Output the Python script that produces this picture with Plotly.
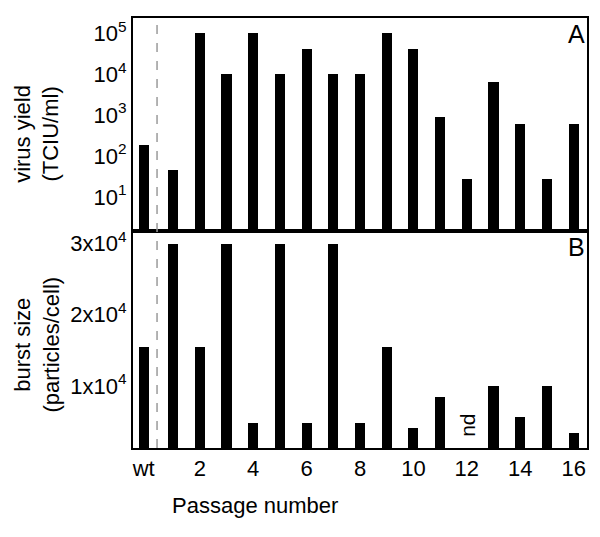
import plotly.graph_objects as go
from plotly.subplots import make_subplots

# passage positions (wt sits just left of passage 1)
passages = [-0.1] + list(range(1, 17))
tick_vals = [-0.1, 2, 4, 6, 8, 10, 12, 14, 16]
tick_text = ["wt", "2", "4", "6", "8", "10", "12", "14", "16"]

# panel A: virus yield (TCIU/ml)
virus_yield = [180, 45, 1e5, 1e4, 1e5, 1e4, 4e4, 1e4, 1e4, 1e5, 4e4,
               900, 27, 6500, 600, 27, 600]

# panel B: burst size (particles/cell), passage 12 not determined
burst_size = [15500, 30000, 15500, 30000, 4800, 30000, 4800, 30000, 4800,
              15500, 4100, 8400, None, 10000, 5600, 10000, 3400]

black = "#000000"
font_main = "Liberation Sans, Arial, sans-serif"

fig = make_subplots(rows=2, cols=1, shared_xaxes=True, vertical_spacing=0,
                    row_heights=[0.495, 0.505])

fig.add_trace(go.Bar(x=passages, y=virus_yield, width=0.38,
                     marker=dict(color=black, line_width=0), showlegend=False),
              row=1, col=1)
fig.add_trace(go.Bar(x=passages, y=burst_size, width=0.38,
                     marker=dict(color=black, line_width=0), showlegend=False),
              row=2, col=1)

##WT SEPARATOR
fig.add_shape(type="line", xref="x", yref="paper", x0=0.4, x1=0.4, y0=0, y1=1,
              line=dict(color="#9a9a9a", width=1.5, dash="dash"), layer="above")

##PANEL LETTERS AND NOTES
fig.add_annotation(xref="x domain", yref="y domain", x=1.0, y=1.0,
                   text="A", showarrow=False, xanchor="right", yanchor="top",
                   font=dict(size=25, color=black))
fig.add_annotation(xref="x2 domain", yref="y2 domain", x=1.0, y=1.0,
                   text="B", showarrow=False, xanchor="right", yanchor="top",
                   font=dict(size=25, color=black))
fig.add_annotation(xref="x2", yref="y2", x=12, y=4500, text="nd",
                   showarrow=False, textangle=-90, font=dict(size=21, color=black),
                   xanchor="center", yanchor="middle")

##AXIS TITLES
fig.add_annotation(xref="paper", yref="paper", x=-0.212, y=0.73,
                   text="virus yield<br>(TCIU/ml)", showarrow=False, textangle=-90,
                   xanchor="center", yanchor="middle",
                   font=dict(size=22, color=black))
fig.add_annotation(xref="paper", yref="paper", x=-0.212, y=0.24,
                   text="burst size<br>(particles/cell)", showarrow=False, textangle=-90,
                   xanchor="center", yanchor="middle",
                   font=dict(size=22, color=black))
fig.add_annotation(xref="paper", yref="paper", x=0.269, y=-0.133,
                   text="Passage number", showarrow=False,
                   xanchor="center", yanchor="middle",
                   font=dict(size=22, color=black))

## AXES
fig.update_xaxes(range=[-0.5, 16.5], tickvals=tick_vals, ticktext=tick_text,
                 showline=True, linewidth=2, linecolor=black, mirror=True,
                 showgrid=False, zeroline=False, ticks="", automargin=False,
                 tickfont=dict(size=22, color=black))

fig.update_yaxes(type="log", range=[0.17, 5.37],
                 tickvals=[10, 100, 1000, 10000, 100000],
                 ticktext=["10<sup>1</sup>", "10<sup>2</sup>", "10<sup>3</sup>",
                           "10<sup>4</sup>", "10<sup>5</sup>"],
                 row=1, col=1)
fig.update_yaxes(range=[1270, 31800], tickvals=[10000, 20000, 30000],
                 ticktext=["1x10<sup>4</sup>", "2x10<sup>4</sup>", "3x10<sup>4</sup>"],
                 row=2, col=1)
fig.update_yaxes(showline=True, linewidth=2, linecolor=black, mirror=True,
                 showgrid=False, zeroline=False, ticks="", automargin=False,
                 tickfont=dict(size=22, color=black))

##LAYOUT
# margins allow for the 8px page offset of the html body
fig.update_layout(
    width=600, height=537,
    margin=dict(l=125, r=21, t=10, b=97),
    paper_bgcolor="white", plot_bgcolor="white",
    font=dict(family=font_main, size=22, color=black),
    bargap=0,
)

fig.write_html("out.html")
